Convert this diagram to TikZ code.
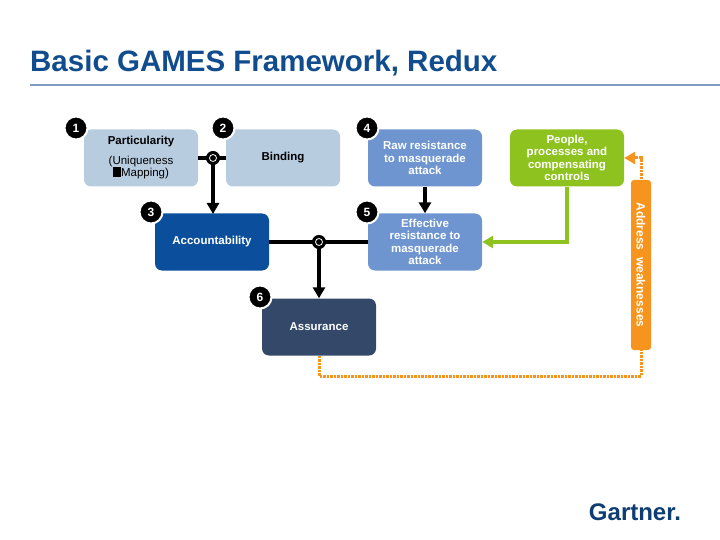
\documentclass[tikz,border=0pt]{standalone}
\usepackage{fontspec}
\setmainfont{Liberation Sans}
\usetikzlibrary{positioning,calc,arrows.meta}
\definecolor{lightbox}{HTML}{B8CCE0}
\definecolor{midbox}{HTML}{6E95D0}
\definecolor{darkbox}{HTML}{0B4F9C}
\definecolor{navybox}{HTML}{34496A}
\definecolor{greenbox}{HTML}{8DC21F}
\definecolor{orangebar}{HTML}{F7941D}
\definecolor{titleblue}{HTML}{114D8E}
\definecolor{ruleblue}{HTML}{7F9CC0}
\tikzset{
  box/.style={rounded corners=7pt, minimum width=114pt, minimum height=57pt, align=center, font=\fontsize{11.5}{12.5}\selectfont\bfseries},
  num/.style={circle, fill=black, draw=white, line width=2pt, minimum size=23pt, inner sep=0pt, text=white, font=\fontsize{12}{12}\selectfont\bfseries},
  joint/.style={circle, draw=black, fill=black, line width=1pt, minimum size=13pt, inner sep=0pt},
  link/.style={line width=3.5pt, black},
  tip/.style={-{Triangle[length=11pt,width=12pt]}}
}
\begin{document}
\begin{tikzpicture}[x=1pt,y=-1pt]
		\useasboundingbox (0,0) rectangle (720,540);
		\node[anchor=base west, text=titleblue, font=\fontsize{29.5}{30}\selectfont\bfseries, inner sep=0pt] (title) at (30,72) {Basic GAMES Framework, Redux};
		\draw[ruleblue, line width=1.5pt] (30,85) -- (720,85);
		
		\node[box, fill=lightbox] (part) at (141,158) {Particularity\\[7pt]\mdseries (Uniqueness\\\mdseries\rule{8pt}{10pt}Mapping)};
		\node[box, fill=lightbox] (bind) at (283,158) {Binding};
		\node[box, fill=midbox, text=white] (raw) at (425,158) {Raw resistance\\to masquerade\\attack};
		\node[box, fill=greenbox, text=white] (ppl) at (567,158) {People,\\processes and\\compensating\\controls};
		\node[box, fill=darkbox, text=white] (acc) at (212,242) {Accountability};
		\node[box, fill=midbox, text=white] (eff) at (425,242) {Effective\\resistance to\\masquerade\\attack};
		\node[box, fill=navybox, text=white] (asr) at (319,327) {Assurance};
		
		\node[num] (n1) at (76,128) {1};
		\node[num] (n2) at (223,128) {2};
		\node[num] (n4) at (367,128) {4};
		\node[num] (n3) at (151,212) {3};
		\node[num] (n5) at (367,212) {5};
		\node[num] (n6) at (260,297) {6};
		
		\draw[link] (part.east) -- (bind.west);
		\draw[link, tip] (213,158) -- (213,214);
		\draw[link] (acc.east) -- (eff.west);
		\draw[link, tip] (319,242) -- (asr.north);
		\node[joint] (j1) at (213,158) {};
		\node[joint] (j2) at (319,242) {};
		\draw[white, line width=0.8pt] (j1) circle (3.5pt) (j2) circle (3.5pt);
		\draw[link, tip] (raw.south) -- (eff.north);
		\draw[greenbox, line width=4pt, tip] (ppl.south) |- (eff.east);
		
		\coordinate (c1) at (319,376);
		\coordinate (c2) at (641,376);
		\draw[orangebar, line width=3pt, dash pattern=on 2.5pt off 1pt, tip] (asr.south) -- (c1) -- (c2) |- (ppl.east);
		\node[fill=orangebar, rounded corners=3pt, minimum width=170pt, minimum height=20pt, rotate=-90, text=white, font=\fontsize{12}{12}\selectfont\bfseries] (adr) at (641,265) {Address\ \ weaknesses};
		
		\node[text=titleblue!80!black, font=\fontsize{24}{24}\selectfont\bfseries] (logo) at (635,512) {Gartner.};
	\end{tikzpicture}
\end{document}
